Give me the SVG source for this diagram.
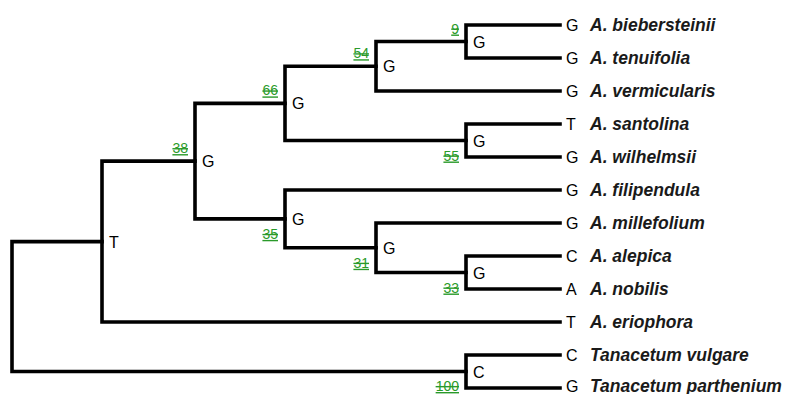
<svg xmlns="http://www.w3.org/2000/svg" width="785" height="394" viewBox="0 0 785 394">
<style>
.br{fill:none;stroke:#000;stroke-width:3.6;stroke-linejoin:miter;stroke-linecap:square}
.nl{font-family:"Liberation Sans",Arial,sans-serif;font-size:16px;fill:#000}
.bs{font-family:"Liberation Sans",Arial,sans-serif;font-size:14px;fill:#2a9a2a;text-anchor:end;text-decoration:underline line-through}
.lf{font-family:"Liberation Sans",Arial,sans-serif;font-size:16px;fill:#000}
.sp{font-family:"Liberation Sans",Arial,sans-serif;font-size:17.5px;font-weight:bold;font-style:italic;fill:#1a1a1a}
</style>
<rect width="785" height="394" fill="#fff"/>
<g id="connectors">
<path class="br" d="M102 241.6 H12 V371.5 H466"/>
<path class="br" d="M195 161.1 H102 V322 H560"/>
<path class="br" d="M285 103.4 H195 V218.9 H285"/>
<path class="br" d="M376 66.25 H285 V140.5 H466"/>
<path class="br" d="M466 41.5 H376 V91 H560"/>
<path class="br" d="M560 25 H466 V58 H560"/>
<path class="br" d="M560 124 H466 V157 H560"/>
<path class="br" d="M560 190 H285 V247.75 H376"/>
<path class="br" d="M560 223 H376 V272.5 H466"/>
<path class="br" d="M560 256 H466 V289 H560"/>
<path class="br" d="M560 355 H466 V388 H560"/>
</g>
<g id="node-root"></g>
<g id="node-T"><text class="nl" x="109" y="247.6">T</text></g>
<g id="node-G39"><text class="nl" x="202" y="167.1">G</text><text class="bs" x="188" y="153.1">38</text></g>
<g id="node-G66"><text class="nl" x="292" y="109.4">G</text><text class="bs" x="278" y="95.4">66</text></g>
<g id="node-G54"><text class="nl" x="383" y="72.25">G</text><text class="bs" x="369" y="58.25">54</text></g>
<g id="node-G9"><text class="nl" x="473" y="47.5">G</text><text class="bs" x="459" y="33.5">9</text></g>
<g id="node-G55"><text class="nl" x="473" y="146.5">G</text><text class="bs" x="459" y="160.5">55</text></g>
<g id="node-G35"><text class="nl" x="292" y="224.9">G</text><text class="bs" x="278" y="238.9">35</text></g>
<g id="node-G31"><text class="nl" x="383" y="253.75">G</text><text class="bs" x="369" y="267.75">31</text></g>
<g id="node-G33"><text class="nl" x="473" y="278.5">G</text><text class="bs" x="459" y="292.5">33</text></g>
<g id="node-C"><text class="nl" x="473" y="377.5">C</text><text class="bs" x="459" y="391">100</text></g>
<g id="leaf-1"><text class="lf" x="566" y="31">G</text><text class="sp" x="590" y="31">A. biebersteinii</text></g>
<g id="leaf-2"><text class="lf" x="566" y="64">G</text><text class="sp" x="590" y="64">A. tenuifolia</text></g>
<g id="leaf-3"><text class="lf" x="566" y="97">G</text><text class="sp" x="590" y="97">A. vermicularis</text></g>
<g id="leaf-4"><text class="lf" x="566" y="130">T</text><text class="sp" x="590" y="130">A. santolina</text></g>
<g id="leaf-5"><text class="lf" x="566" y="163">G</text><text class="sp" x="590" y="163">A. wilhelmsii</text></g>
<g id="leaf-6"><text class="lf" x="566" y="196">G</text><text class="sp" x="590" y="196">A. filipendula</text></g>
<g id="leaf-7"><text class="lf" x="566" y="229">G</text><text class="sp" x="590" y="229">A. millefolium</text></g>
<g id="leaf-8"><text class="lf" x="566" y="262">C</text><text class="sp" x="590" y="262">A. alepica</text></g>
<g id="leaf-9"><text class="lf" x="566" y="295">A</text><text class="sp" x="590" y="295">A. nobilis</text></g>
<g id="leaf-10"><text class="lf" x="566" y="328">T</text><text class="sp" x="590" y="328">A. eriophora</text></g>
<g id="leaf-11"><text class="lf" x="566" y="361">C</text><text class="sp" x="590" y="361">Tanacetum vulgare</text></g>
<g id="leaf-12"><text class="lf" x="566" y="391.5">G</text><text class="sp" x="590" y="391.5">Tanacetum parthenium</text></g>
</svg>
